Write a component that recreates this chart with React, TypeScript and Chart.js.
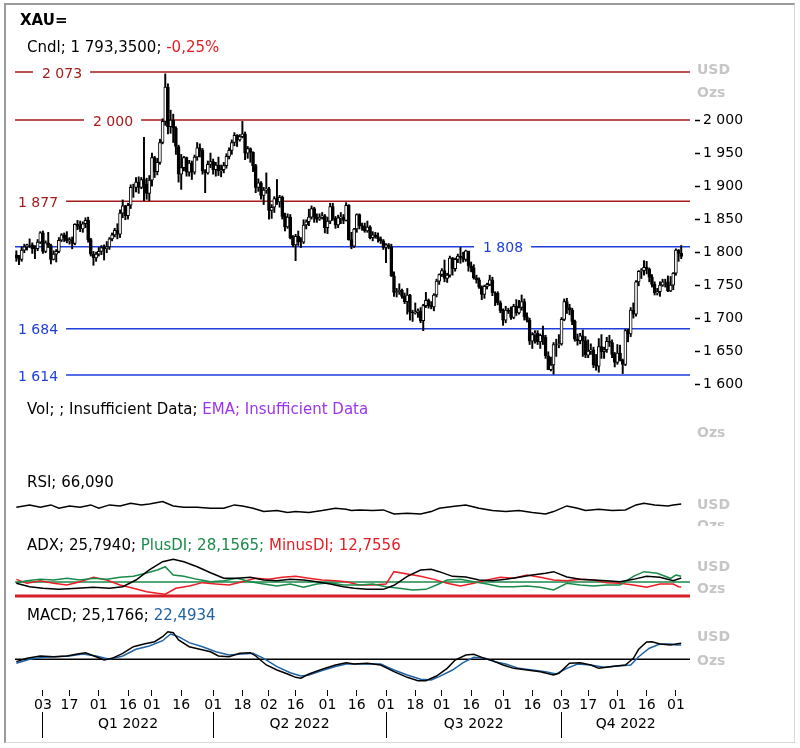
import React, { useEffect, useRef } from 'react';
import { Chart, registerables } from 'chart.js';

Chart.register(...registerables);

const FONT = '"DejaVu Sans", Verdana, sans-serif';

// ---- Daily XAU candles (weekdays, index 0 = 20 Dec 2021) ----
const firstOpen = 1796;
const closes = [
  1791, 1789, 1803, 1808, 1811, 1811, 1805, 1805, 1815, 1829,
  1801, 1814, 1810, 1789, 1797, 1801, 1818, 1826, 1821, 1817, 1819, 1813, 1842, 1839, 1835, 1843, 1848, 1819, 1797, 1791, 1797,
  1801, 1807, 1805, 1808, 1820, 1826, 1833, 1827, 1859, 1870, 1855, 1871, 1898, 1898, 1906, 1898, 1910, 1903, 1889, 1909,
  1943, 1922, 1936, 1966, 1998, 2050, 1990, 2000, 1988, 1960, 1918, 1928, 1943, 1921, 1935, 1921, 1944, 1958, 1954, 1923, 1920, 1933, 1937,
  1925, 1932, 1923, 1925, 1931, 1945, 1954, 1966, 1977, 1970, 1975, 1979, 1950, 1957, 1951, 1931, 1898, 1905, 1886, 1894, 1896,
  1863, 1868, 1881, 1876, 1883, 1854, 1838, 1853, 1822, 1811, 1824, 1815, 1815, 1841, 1846, 1853, 1866, 1853, 1850, 1853, 1855, 1837,
  1847, 1869, 1851, 1841, 1852, 1853, 1848, 1871, 1819, 1809, 1835, 1857, 1840, 1839, 1832, 1838, 1822, 1826, 1823, 1820, 1817, 1807,
  1811, 1808, 1764, 1739, 1740, 1742, 1733, 1725, 1735, 1709, 1708, 1709, 1711, 1696, 1719, 1727, 1719, 1717, 1735, 1756, 1766,
  1772, 1760, 1765, 1791, 1775, 1789, 1794, 1792, 1789, 1802, 1779, 1776, 1761, 1758, 1747, 1736, 1748, 1751, 1758, 1738, 1738, 1723, 1711,
  1697, 1712, 1710, 1701, 1718, 1708, 1716, 1725, 1702, 1697, 1665, 1675, 1677, 1664, 1674, 1671, 1643, 1622, 1629, 1660, 1660, 1661,
  1698, 1725, 1716, 1712, 1695, 1668, 1666, 1673, 1666, 1644, 1650, 1652, 1629, 1627, 1657, 1649, 1652, 1665, 1663, 1645, 1633,
  1647, 1636, 1630, 1681, 1676, 1712, 1706, 1755, 1771, 1772, 1777, 1774, 1762, 1751, 1738, 1740, 1750, 1755, 1755, 1741, 1750, 1768,
  1803, 1798, 1793.35,
];
const highs = [
  1802, 1795, 1808, 1812, 1812, 1820, 1814, 1810, 1819, 1831,
  1832, 1817, 1830, 1812, 1802, 1804, 1822, 1828, 1829, 1831, 1822, 1823, 1843, 1848, 1847, 1846, 1852, 1853, 1821, 1801, 1800,
  1807, 1810, 1811, 1816, 1822, 1829, 1836, 1843, 1864, 1879, 1871, 1874, 1902, 1903, 1913, 1914, 1913, 1974, 1912, 1916,
  1950, 1945, 1942, 1971, 2002, 2070, 2055, 2015, 2009, 1990, 1962, 1948, 1945, 1944, 1939, 1938, 1947, 1966, 1964, 1957, 1925, 1938, 1950,
  1941, 1936, 1944, 1932, 1936, 1949, 1958, 1970, 1981, 1978, 1978, 1998, 1982, 1960, 1958, 1952, 1933, 1911, 1907, 1898, 1920,
  1898, 1872, 1884, 1910, 1886, 1885, 1859, 1858, 1857, 1825, 1827, 1832, 1822, 1849, 1849, 1865, 1870, 1868, 1858, 1858, 1860, 1857,
  1853, 1874, 1874, 1854, 1856, 1860, 1857, 1875, 1872, 1830, 1836, 1858, 1858, 1844, 1844, 1847, 1840, 1831, 1830, 1829, 1823, 1819,
  1813, 1813, 1812, 1770, 1745, 1752, 1744, 1738, 1745, 1736, 1712, 1723, 1714, 1716, 1721, 1739, 1729, 1725, 1737, 1759, 1767,
  1775, 1788, 1768, 1794, 1792, 1791, 1797, 1807, 1800, 1803, 1801, 1785, 1781, 1765, 1761, 1749, 1750, 1753, 1765, 1762, 1740, 1740, 1726,
  1714, 1718, 1715, 1717, 1721, 1728, 1727, 1735, 1729, 1708, 1700, 1678, 1681, 1681, 1676, 1688, 1674, 1649, 1641, 1663, 1668, 1675,
  1701, 1729, 1730, 1721, 1715, 1697, 1676, 1677, 1682, 1672, 1667, 1661, 1656, 1645, 1669, 1675, 1656, 1671, 1674, 1667, 1648,
  1660, 1659, 1638, 1683, 1683, 1716, 1723, 1757, 1772, 1775, 1787, 1786, 1776, 1766, 1755, 1745, 1755, 1759, 1759, 1764, 1763, 1769,
  1805, 1804, 1810,
];
const lows = [
  1786, 1781, 1786, 1799, 1803, 1807, 1798, 1790, 1802, 1813,
  1798, 1799, 1807, 1782, 1788, 1785, 1799, 1816, 1816, 1814, 1812, 1805, 1811, 1834, 1831, 1830, 1837, 1815, 1794, 1780, 1786,
  1794, 1796, 1788, 1799, 1804, 1817, 1823, 1820, 1822, 1852, 1849, 1850, 1866, 1883, 1891, 1889, 1896, 1878, 1880, 1878,
  1900, 1913, 1917, 1933, 1964, 1992, 1979, 1980, 1966, 1948, 1906, 1895, 1923, 1915, 1915, 1910, 1918, 1939, 1944, 1918, 1890, 1918, 1928,
  1918, 1915, 1916, 1914, 1920, 1927, 1941, 1948, 1961, 1960, 1968, 1973, 1940, 1942, 1936, 1922, 1890, 1892, 1880, 1872, 1889,
  1850, 1851, 1860, 1872, 1868, 1850, 1832, 1836, 1820, 1808, 1787, 1810, 1807, 1813, 1835, 1840, 1850, 1845, 1845, 1848, 1850, 1829,
  1828, 1843, 1848, 1836, 1837, 1843, 1843, 1847, 1818, 1805, 1807, 1830, 1835, 1833, 1830, 1830, 1820, 1817, 1821, 1815, 1813, 1804,
  1784, 1805, 1763, 1733, 1732, 1736, 1730, 1722, 1706, 1697, 1695, 1706, 1701, 1693, 1681, 1716, 1715, 1714, 1711, 1732, 1751,
  1763, 1755, 1754, 1762, 1765, 1771, 1784, 1783, 1785, 1786, 1771, 1770, 1759, 1753, 1745, 1728, 1730, 1744, 1749, 1734, 1719, 1720, 1708,
  1689, 1693, 1707, 1698, 1699, 1704, 1706, 1712, 1697, 1694, 1660, 1654, 1662, 1660, 1654, 1660, 1639, 1622, 1620, 1615, 1642, 1655,
  1659, 1696, 1707, 1705, 1690, 1665, 1659, 1661, 1642, 1640, 1640, 1645, 1625, 1621, 1618, 1639, 1639, 1648, 1657, 1640, 1626,
  1630, 1635, 1616, 1628, 1664, 1672, 1700, 1703, 1749, 1760, 1765, 1767, 1755, 1747, 1735, 1735, 1733, 1748, 1747, 1740, 1740, 1743,
  1765, 1786, 1790,
];

// ---- Axis ticks ----
const dayTickIdx = [10, 20, 31, 42, 51, 62, 74, 85, 95, 105, 117, 128, 139, 150, 160, 171, 183, 194, 205, 215, 226, 237, 248];
const dayTickLabels = ['03', '17', '01', '16', '01', '16', '01', '18', '02', '16', '01', '16', '01', '18', '01', '16', '01', '16', '03', '17', '01', '16', '01'];
const quarterStartIdx = [10, 74, 139, 205];
const quarterLabels = ['Q1 2022', 'Q2 2022', 'Q3 2022', 'Q4 2022'];
const priceTicks = [1600, 1650, 1700, 1750, 1800, 1850, 1900, 1950, 2000];

// ---- Horizontal levels ----
const redLevels = [2073, 2000, 1877];
const blueLevels = [1808, 1684, 1614];
const adxGreenLevel = 20;
const adxRedLevel = 0;
const macdZeroLevel = 0;

// ---- Indicators: [dayIndex, value] ----
const rsiPoints: [number, number][] = [
  [0, 55.1], [5, 62.8], [9, 55.1], [13, 62.8], [16, 51.8], [20, 59.5], [24, 55.1], [28, 62.8], [31, 51.8], [35, 62.8],
  [39, 59.5], [43, 68.3], [47, 62.8], [50, 66.1], [55, 73.8], [59, 59.5], [63, 55.1], [68, 55.1], [73, 51.8], [78, 51.8],
  [82, 62.8], [85, 59.5], [89, 51.8], [93, 40.8], [98, 44.1], [102, 37.5], [105, 40.8], [110, 37.5], [115, 44.1], [120, 51.8],
  [124, 48.5], [126, 44.1], [129, 46.3], [134, 44.1], [138, 46.3], [142, 33.1], [147, 35.3], [152, 33.1], [156, 40.8], [159, 51.8],
  [164, 57.3], [169, 62.8], [174, 51.8], [179, 44.1], [184, 40.8], [189, 44.1], [194, 37.5], [199, 33.1], [202, 40.8], [207, 59.5],
  [211, 51.8], [214, 44.1], [219, 48.5], [224, 44.1], [229, 46.3], [233, 62.8], [236, 68.3], [240, 62.8], [245, 59.5], [247, 62.8],
  [250, 66.09],
];
const adxPoints: [number, number][] = [
  [0, 18.1], [5, 13.3], [10, 11], [16, 9.5], [23, 11], [29, 12.4], [35, 11], [40, 13.3], [45, 22.9], [50, 37.2],
  [55, 49], [59, 52.5], [63, 49], [68, 41.9], [73, 33.3], [78, 25.3], [83, 25.3], [88, 26.7], [93, 22.9], [98, 21.9],
  [103, 23.8], [108, 22.9], [113, 20.5], [118, 17.2], [123, 13.3], [127, 11], [132, 9.5], [138, 9.5], [142, 15.3], [147, 28.1],
  [152, 37.2], [156, 38.1], [159, 34.8], [164, 28.1], [169, 27.2], [174, 22.9], [179, 21.9], [184, 23.8], [189, 26.7], [194, 30],
  [199, 32.4], [202, 34.8], [207, 27.2], [212, 23.8], [217, 22.9], [222, 21.9], [227, 20.5], [232, 23.8], [237, 28.1], [242, 26.7],
  [247, 21.9], [250, 25.794],
];
const plusDiPoints: [number, number][] = [
  [0, 19.1], [4, 21.9], [9, 23.8], [14, 22.9], [19, 25.3], [24, 22.9], [29, 25.3], [34, 23.8], [39, 26.7], [44, 28.1],
  [49, 32.9], [53, 37.2], [56, 41.9], [59, 30], [63, 28.1], [68, 23.8], [73, 20.5], [78, 21.9], [83, 25.3], [88, 20.5],
  [93, 17.2], [98, 14.3], [103, 17.2], [108, 12.4], [113, 17.2], [118, 19.1], [123, 15.7], [129, 15.7], [134, 17.2], [139, 13.3],
  [144, 11], [149, 8.6], [154, 9.5], [158, 15.7], [162, 22.9], [167, 23.8], [172, 20.5], [177, 17.2], [182, 13.3], [187, 13.3],
  [192, 14.3], [197, 12.4], [202, 8.6], [207, 18.1], [212, 15.7], [217, 14.3], [222, 15.7], [227, 15.7], [232, 28.1], [236, 34.8],
  [241, 32.4], [246, 25.3], [248, 30], [250, 28.1565],
];
const minusDiPoints: [number, number][] = [
  [0, 23.8], [4, 18.1], [9, 21.9], [14, 18.1], [19, 15.7], [24, 20.5], [29, 26.7], [34, 22.9], [39, 15.7], [44, 11],
  [49, 6.2], [53, 3.8], [56, 2.5], [60, 11], [65, 14.3], [70, 19.1], [75, 17.2], [80, 15.7], [85, 20.5], [90, 25.3],
  [95, 23.8], [100, 26.7], [105, 28.1], [110, 25.3], [115, 22.9], [120, 21.9], [124, 20.5], [129, 15.7], [134, 15.7], [139, 17.2],
  [142, 34.8], [147, 31.5], [152, 28.1], [157, 23.8], [162, 18.1], [167, 14.3], [172, 18.1], [177, 22.9], [182, 26.7], [187, 25.3],
  [192, 30], [197, 26.7], [202, 22.9], [207, 21.9], [212, 23.8], [217, 22.9], [222, 19.1], [227, 18.1], [232, 15.7], [237, 12.4],
  [242, 17.2], [247, 17.2], [249, 13.3], [250, 12.7556],
];
const macdPoints: [number, number][] = [
  [0, -3.7], [4, 1.5], [9, 5.2], [14, 4.1], [19, 5.2], [23, 8.3], [26, 10.4], [30, 4.1], [33, -1.1], [36, 1.5],
  [40, 9.4], [44, 19.8], [48, 24], [52, 27.6], [55, 35.5], [57, 43.3], [59, 41.8], [61, 30.3], [65, 19.8], [69, 15.7],
  [73, 11.9], [76, 5.2], [80, 4.1], [84, 9.4], [88, 10.4], [90, 5.2], [94, -8.9], [98, -16.8], [102, -23.1], [105, -28.3],
  [107, -29.8], [110, -23.1], [115, -15.7], [120, -8.9], [124, -5.3], [127, -7.3], [132, -6.3], [137, -8.9], [142, -19.4], [147, -28.3],
  [151, -33.5], [154, -33.5], [158, -26.2], [162, -14.2], [165, -1.1], [169, 6.8], [172, 7.9], [176, 1.5], [179, -2.1], [183, -8.9],
  [187, -14.2], [192, -16.8], [197, -19.4], [202, -24.6], [204, -22], [208, -6.3], [212, -5.3], [216, -8.9], [219, -14.2], [224, -11.4],
  [229, -8.9], [232, 1.5], [234, 15.7], [237, 27.2], [239, 27.6], [242, 24], [246, 22.6], [248, 24], [250, 25.1766],
];
const signalPoints: [number, number][] = [
  [0, -6.3], [5, 0], [10, 3.1], [15, 4.1], [20, 5.2], [25, 8.3], [30, 5.2], [35, 0], [40, 5.2], [45, 15.7],
  [50, 21], [55, 29.2], [58, 39.7], [61, 35.5], [65, 26.1], [70, 19.8], [75, 11.9], [80, 6.8], [85, 8.3], [89, 9.4],
  [93, 1.5], [98, -11.4], [103, -21], [107, -26.2], [110, -24.6], [115, -17.8], [120, -11.4], [124, -7.3], [129, -7.3], [137, -7.3],
  [142, -16.8], [147, -24.6], [152, -31.4], [156, -32.5], [159, -27.2], [164, -16.8], [168, -5.3], [172, 3.1], [176, 1.5], [180, -3.7],
  [184, -7.3], [189, -14.2], [194, -16.8], [199, -19.4], [203, -23.1], [207, -14.2], [211, -7.3], [216, -8.9], [221, -12.6], [226, -10.5],
  [231, -8.9], [234, 4.1], [238, 17.3], [242, 24], [246, 24], [248, 22.6], [250, 22.4934],
];

// ---- Layout / style constants ----
const X_MIN = -0.5;
const X_MAX = 253.3;
const RED = '#a51a1a';
const BLUE = '#1f3fdc';
const TEXT_RED = '#e31e24';
const GREEN = '#1a8a4a';
const SIGNAL_BLUE = '#1f62a6';
const GRAY = '#c6c6c6';
const levelLabelX: Record<number, number> = { 2073: 42, 2000: 93, 1877: 18, 1808: 483, 1684: 18, 1614: 18 };

const fmt = (v: number) => {
  const n = Math.round(v);
  if (n >= 1000) return `${Math.floor(n / 1000)} ${String(n % 1000).padStart(3, '0')}`;
  return String(n);
};

const titles: { x: number; y: number; bold?: boolean; segs: [string, string][] }[] = [
  { x: 20, y: 21, bold: true, segs: [['XAU=', '#000']] },
  { x: 27, y: 48, segs: [['Cndl; 1 793,3500; ', '#000'], ['-0,25%', TEXT_RED]] },
  { x: 27, y: 410, segs: [['Vol; ; Insufficient Data; ', '#000'], ['EMA; Insufficient Data', '#9b35ee']] },
  { x: 27, y: 483, segs: [['RSI; 66,090', '#000']] },
  { x: 27, y: 546, segs: [['ADX; 25,7940; ', '#000'], ['PlusDI; 28,1565; ', GREEN], ['MinusDI; 12,7556', TEXT_RED]] },
  { x: 27, y: 616, segs: [['MACD; 25,1766; ', '#000'], ['22,4934', SIGNAL_BLUE]] },
];
const unitLabels: { text: string; y: number; clipBottom?: number }[] = [
  { text: 'USD', y: 70 }, { text: 'Ozs', y: 93 },
  { text: 'Ozs', y: 433 },
  { text: 'USD', y: 505 }, { text: 'Ozs', y: 526, clipBottom: 526 },
  { text: 'USD', y: 567 }, { text: 'Ozs', y: 589 },
  { text: 'USD', y: 637 }, { text: 'Ozs', y: 661 },
];

const textPlugin = {
  id: 'panelTexts',
  afterDatasetsDraw(chart: any) {
    const ctx = chart.ctx as CanvasRenderingContext2D;
    const ys = chart.scales.y;
    ctx.save();
    ctx.font = `14px ${FONT}`;
    ctx.textBaseline = 'middle';
    ctx.textAlign = 'left';
    const all = [...redLevels.map((v) => [v, RED] as [number, string]), ...blueLevels.map((v) => [v, BLUE] as [number, string])];
    for (const [v, color] of all) {
      const y = ys.getPixelForValue(v);
      const t = fmt(v);
      const x = levelLabelX[v];
      const w = ctx.measureText(t).width;
      ctx.fillStyle = '#ffffff';
      ctx.fillRect(x - 9, y - 3, w + 17, 6);
      ctx.fillStyle = color;
      ctx.fillText(t, x, y + 2);
    }
    ctx.restore();
  },
  afterDraw(chart: any) {
    const ctx = chart.ctx as CanvasRenderingContext2D;
    ctx.save();
    ctx.textBaseline = 'middle';
    ctx.textAlign = 'left';
    for (const t of titles) {
      ctx.font = `${t.bold ? 'bold ' : ''}15px ${FONT}`;
      let cx = t.x;
      for (const [s, c] of t.segs) {
        ctx.fillStyle = c;
        ctx.fillText(s, cx, t.y);
        cx += ctx.measureText(s).width;
      }
    }
    ctx.font = `bold 14px ${FONT}`;
    ctx.fillStyle = GRAY;
    for (const u of unitLabels) {
      ctx.save();
      if (u.clipBottom) {
        ctx.beginPath();
        ctx.rect(690, 0, 110, u.clipBottom);
        ctx.clip();
      }
      ctx.fillText(u.text, 697, u.y);
      ctx.restore();
    }
    ctx.restore();
  },
};

export default function App() {
  const ref = useRef<HTMLCanvasElement | null>(null);

  useEffect(() => {
    if (!ref.current) return;
    const opens = [firstOpen, ...closes.slice(0, -1)];
    const bodyData = closes.map((c, i) => ({ x: i, y: [opens[i], c] }));
    const wickData = closes.map((_, i) => ({ x: i, y: [lows[i], highs[i]] }));
    const bodyFill = closes.map((c, i) => (c >= opens[i] ? '#ffffff' : '#000000'));

    const hline = (v: number, axis: string, color: string, width: number) => ({
      type: 'line',
      data: [{ x: X_MIN, y: v }, { x: X_MAX, y: v }],
      xAxisID: 'x',
      yAxisID: axis,
      borderColor: color,
      borderWidth: width,
      pointRadius: 0,
      order: 10,
    });
    const series = (pts: [number, number][], axis: string, color: string, order = 3) => ({
      type: 'line',
      data: pts.map(([x, y]) => ({ x, y })),
      xAxisID: 'x',
      yAxisID: axis,
      borderColor: color,
      borderWidth: 1.5,
      pointRadius: 0,
      tension: 0,
      order,
    });

    const quarterMid = quarterStartIdx.map((s, k) => (s + (k < quarterStartIdx.length - 1 ? quarterStartIdx[k + 1] : X_MAX)) / 2);
    const hiddenY = (weight: number, min: number, max: number) => ({
      type: 'linear',
      position: 'right',
      stack: 'panels',
      stackWeight: weight,
      min,
      max,
      ticks: { display: false },
      grid: { display: false },
      border: { display: false },
      afterFit: (s: any) => { s.width = 110; },
    });

    const chart = new Chart(ref.current, {
      type: 'bar',
      data: {
        datasets: [
          {
            type: 'bar',
            data: bodyData,
            xAxisID: 'x',
            yAxisID: 'y',
            backgroundColor: bodyFill,
            borderColor: '#000000',
            borderWidth: 1,
            borderSkipped: false,
            barThickness: 3,
            grouped: false,
            order: 1,
          },
          {
            type: 'bar',
            data: wickData,
            xAxisID: 'x',
            yAxisID: 'y',
            backgroundColor: '#000000',
            borderWidth: 0,
            barThickness: 1.3,
            grouped: false,
            order: 2,
          },
          ...redLevels.map((v) => hline(v, 'y', RED, 1.5)),
          ...blueLevels.map((v) => hline(v, 'y', BLUE, 1.5)),
          series(rsiPoints, 'yRsi', '#000000'),
          hline(adxGreenLevel, 'yAdx', GREEN, 1.5),
          hline(adxRedLevel, 'yAdx', '#d81e2a', 3),
          series(minusDiPoints, 'yAdx', '#ee1c25', 4),
          series(plusDiPoints, 'yAdx', GREEN, 3),
          series(adxPoints, 'yAdx', '#000000', 2),
          hline(macdZeroLevel, 'yMacd', '#000000', 1.5),
          series(signalPoints, 'yMacd', SIGNAL_BLUE, 3),
          series(macdPoints, 'yMacd', '#000000', 2),
        ] as any,
      },
      options: {
        responsive: false,
        animation: false,
        devicePixelRatio: 1,
        layout: { padding: { left: 15, top: 60, right: 0, bottom: 6 } },
        plugins: { legend: { display: false }, tooltip: { enabled: false } },
        scales: {
          x: {
            type: 'linear',
            position: 'bottom',
            min: X_MIN,
            max: X_MAX,
            offset: false,
            afterBuildTicks: (s: any) => { s.ticks = dayTickIdx.map((v) => ({ value: v })); },
            afterFit: (s: any) => { s.height = 22; },
            ticks: {
              autoSkip: false,
              maxRotation: 0,
              padding: 1,
              color: '#000',
              font: { family: FONT, size: 14 },
              callback: (v: any) => {
                const k = dayTickIdx.indexOf(Number(v));
                return k >= 0 ? dayTickLabels[k] : '';
              },
            },
            grid: { offset: false, drawOnChartArea: false, drawTicks: true, tickLength: 6, tickColor: '#000', tickWidth: 1 },
            border: { display: false },
          },
          xq: {
            type: 'linear',
            position: 'bottom',
            min: X_MIN,
            max: X_MAX,
            offset: false,
            afterBuildTicks: (s: any) => {
              s.ticks = [...quarterStartIdx, ...quarterMid].sort((a, b) => a - b).map((v) => ({ value: v }));
            },
            afterFit: (s: any) => { s.height = 30; },
            ticks: {
              autoSkip: false,
              maxRotation: 0,
              padding: -22,
              color: '#000',
              font: { family: FONT, size: 14 },
              callback: (v: any) => {
                const k = quarterMid.findIndex((m) => Math.abs(m - Number(v)) < 0.01);
                return k >= 0 ? quarterLabels[k] : '';
              },
            },
            grid: {
              offset: false,
              drawOnChartArea: false,
              drawTicks: true,
              tickLength: 26,
              tickWidth: 1,
              tickColor: (c: any) => (c.tick && quarterStartIdx.includes(c.tick.value) ? '#000' : 'rgba(0,0,0,0)'),
            },
            border: { display: false },
          },
          y: {
            type: 'linear',
            position: 'right',
            stack: 'panels',
            stackWeight: 336,
            min: 1582,
            max: 2091,
            afterBuildTicks: (s: any) => { s.ticks = priceTicks.map((v) => ({ value: v })); },
            afterFit: (s: any) => { s.width = 110; },
            ticks: {
              padding: 3,
              color: '#000',
              font: { family: FONT, size: 14 },
              callback: (v: any) => fmt(Number(v)),
            },
            grid: {
              drawOnChartArea: false,
              drawTicks: true,
              tickLength: 10,
              tickColor: '#000',
              tickWidth: 1.5,
              tickBorderDash: [0, 5, 5, 100],
            },
            border: { display: false },
          },
          yVol: hiddenY(74, 0, 1),
          yRsi: hiddenY(60, -20, 178),
          yAdx: hiddenY(70, -5.72, 94.38),
          yMacd: hiddenY(90, -48.2, 93.1),
        } as any,
      },
      plugins: [textPlugin],
    } as any);

    return () => chart.destroy();
  }, []);

  return (
    <div style={{ position: 'absolute', left: 0, top: 0, width: 800, height: 748, background: '#ffffff' }}>
      <div
        style={{
          position: 'absolute',
          left: 4,
          top: 3,
          width: 791,
          height: 740,
          boxSizing: 'border-box',
          borderLeft: '2px solid #9a9a9a',
          borderTop: '2px solid #9a9a9a',
          borderRight: '1px solid #d8d8d8',
          borderBottom: '1px solid #d8d8d8',
        }}
      />
      <canvas
        ref={ref}
        width={800}
        height={748}
        style={{ position: 'absolute', left: 0, top: 0, width: 800, height: 748 }}
      />
    </div>
  );
}
